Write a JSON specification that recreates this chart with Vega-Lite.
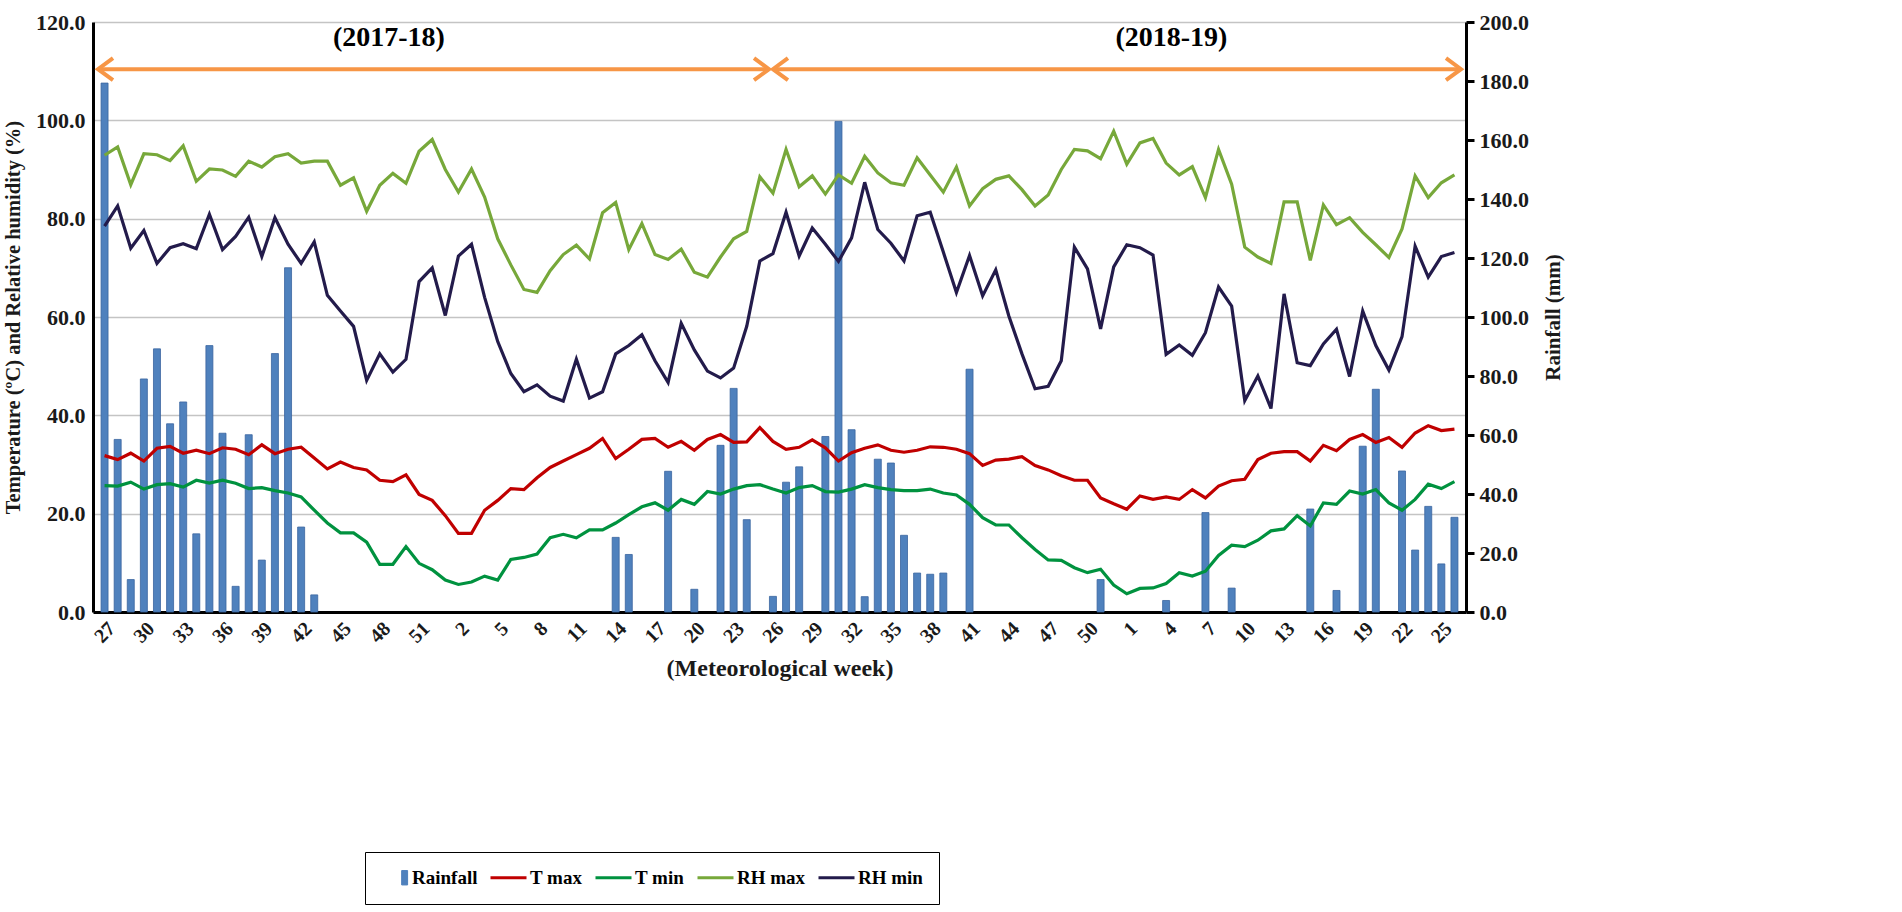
{
  "$schema": "https://vega.github.io/schema/vega-lite/v6.json",
  "width": 1373,
  "height": 590,
  "autosize": {"type": "none"},
  "padding": {"left": 93, "top": 22, "right": 436, "bottom": 300},
  "background": "white",
  "datasets": {
    "weekly": [
      {"i": 0, "week": 27, "Rainfall": 179.3, "T max": 31.8, "T min": 25.7, "RH max": 92.9, "RH min": 78.5},
      {"i": 1, "week": 28, "Rainfall": 58.5, "T max": 31.0, "T min": 25.6, "RH max": 94.6, "RH min": 82.6},
      {"i": 2, "week": 29, "Rainfall": 11.0, "T max": 32.3, "T min": 26.4, "RH max": 86.9, "RH min": 74.0},
      {"i": 3, "week": 30, "Rainfall": 79.0, "T max": 30.7, "T min": 25.0, "RH max": 93.2, "RH min": 77.6},
      {"i": 4, "week": 31, "Rainfall": 89.2, "T max": 33.3, "T min": 25.9, "RH max": 93.0, "RH min": 70.9},
      {"i": 5, "week": 32, "Rainfall": 63.8, "T max": 33.7, "T min": 26.1, "RH max": 91.8, "RH min": 74.1},
      {"i": 6, "week": 33, "Rainfall": 71.2, "T max": 32.3, "T min": 25.4, "RH max": 94.8, "RH min": 74.9},
      {"i": 7, "week": 34, "Rainfall": 26.5, "T max": 32.9, "T min": 26.8, "RH max": 87.6, "RH min": 73.9},
      {"i": 8, "week": 35, "Rainfall": 90.3, "T max": 32.2, "T min": 26.2, "RH max": 90.1, "RH min": 80.9},
      {"i": 9, "week": 36, "Rainfall": 60.6, "T max": 33.4, "T min": 26.8, "RH max": 89.9, "RH min": 73.7},
      {"i": 10, "week": 37, "Rainfall": 8.7, "T max": 33.1, "T min": 26.2, "RH max": 88.6, "RH min": 76.4},
      {"i": 11, "week": 38, "Rainfall": 60.1, "T max": 32.0, "T min": 25.1, "RH max": 91.7, "RH min": 80.3},
      {"i": 12, "week": 39, "Rainfall": 17.6, "T max": 34.0, "T min": 25.3, "RH max": 90.5, "RH min": 72.3},
      {"i": 13, "week": 40, "Rainfall": 87.6, "T max": 32.2, "T min": 24.7, "RH max": 92.6, "RH min": 80.2},
      {"i": 14, "week": 41, "Rainfall": 116.7, "T max": 33.1, "T min": 24.2, "RH max": 93.2, "RH min": 74.8},
      {"i": 15, "week": 42, "Rainfall": 28.8, "T max": 33.5, "T min": 23.4, "RH max": 91.3, "RH min": 70.9},
      {"i": 16, "week": 43, "Rainfall": 5.8, "T max": 31.3, "T min": 20.7, "RH max": 91.7, "RH min": 75.3},
      {"i": 17, "week": 44, "Rainfall": 0, "T max": 29.1, "T min": 18.1, "RH max": 91.7, "RH min": 64.4},
      {"i": 18, "week": 45, "Rainfall": 0, "T max": 30.5, "T min": 16.1, "RH max": 86.8, "RH min": 61.2},
      {"i": 19, "week": 46, "Rainfall": 0, "T max": 29.4, "T min": 16.1, "RH max": 88.3, "RH min": 58.1},
      {"i": 20, "week": 47, "Rainfall": 0, "T max": 28.9, "T min": 14.2, "RH max": 81.5, "RH min": 47.1},
      {"i": 21, "week": 48, "Rainfall": 0, "T max": 26.8, "T min": 9.7, "RH max": 86.8, "RH min": 52.5},
      {"i": 22, "week": 49, "Rainfall": 0, "T max": 26.5, "T min": 9.7, "RH max": 89.2, "RH min": 48.8},
      {"i": 23, "week": 50, "Rainfall": 0, "T max": 27.9, "T min": 13.3, "RH max": 87.2, "RH min": 51.4},
      {"i": 24, "week": 51, "Rainfall": 0, "T max": 23.9, "T min": 9.9, "RH max": 93.7, "RH min": 67.2},
      {"i": 25, "week": 52, "Rainfall": 0, "T max": 22.7, "T min": 8.6, "RH max": 96.1, "RH min": 70.0},
      {"i": 26, "week": 1, "Rainfall": 0, "T max": 19.6, "T min": 6.5, "RH max": 90.0, "RH min": 60.3},
      {"i": 27, "week": 2, "Rainfall": 0, "T max": 16.0, "T min": 5.6, "RH max": 85.4, "RH min": 72.4},
      {"i": 28, "week": 3, "Rainfall": 0, "T max": 16.0, "T min": 6.1, "RH max": 90.1, "RH min": 74.8},
      {"i": 29, "week": 4, "Rainfall": 0, "T max": 20.7, "T min": 7.3, "RH max": 84.4, "RH min": 64.0},
      {"i": 30, "week": 5, "Rainfall": 0, "T max": 22.7, "T min": 6.5, "RH max": 75.9, "RH min": 55.0},
      {"i": 31, "week": 6, "Rainfall": 0, "T max": 25.1, "T min": 10.7, "RH max": 70.6, "RH min": 48.5},
      {"i": 32, "week": 7, "Rainfall": 0, "T max": 24.9, "T min": 11.1, "RH max": 65.6, "RH min": 44.8},
      {"i": 33, "week": 8, "Rainfall": 0, "T max": 27.3, "T min": 11.8, "RH max": 65.0, "RH min": 46.2},
      {"i": 34, "week": 9, "Rainfall": 0, "T max": 29.4, "T min": 15.1, "RH max": 69.4, "RH min": 43.9},
      {"i": 35, "week": 10, "Rainfall": 0, "T max": 30.7, "T min": 15.8, "RH max": 72.7, "RH min": 42.9},
      {"i": 36, "week": 11, "Rainfall": 0, "T max": 32.0, "T min": 15.1, "RH max": 74.6, "RH min": 51.4},
      {"i": 37, "week": 12, "Rainfall": 0, "T max": 33.3, "T min": 16.7, "RH max": 71.8, "RH min": 43.5},
      {"i": 38, "week": 13, "Rainfall": 0, "T max": 35.3, "T min": 16.7, "RH max": 81.2, "RH min": 44.8},
      {"i": 39, "week": 14, "Rainfall": 25.3, "T max": 31.2, "T min": 18.1, "RH max": 83.3, "RH min": 52.5},
      {"i": 40, "week": 15, "Rainfall": 19.5, "T max": 33.1, "T min": 19.8, "RH max": 73.7, "RH min": 54.2},
      {"i": 41, "week": 16, "Rainfall": 0, "T max": 35.1, "T min": 21.4, "RH max": 79.0, "RH min": 56.4},
      {"i": 42, "week": 17, "Rainfall": 0, "T max": 35.3, "T min": 22.2, "RH max": 72.7, "RH min": 51.1},
      {"i": 43, "week": 18, "Rainfall": 47.7, "T max": 33.5, "T min": 20.7, "RH max": 71.7, "RH min": 46.7},
      {"i": 44, "week": 19, "Rainfall": 0, "T max": 34.7, "T min": 22.9, "RH max": 73.8, "RH min": 58.7},
      {"i": 45, "week": 20, "Rainfall": 7.7, "T max": 32.9, "T min": 21.9, "RH max": 69.1, "RH min": 53.3},
      {"i": 46, "week": 21, "Rainfall": 0, "T max": 35.1, "T min": 24.5, "RH max": 68.1, "RH min": 49.0},
      {"i": 47, "week": 22, "Rainfall": 56.5, "T max": 36.1, "T min": 24.0, "RH max": 72.2, "RH min": 47.6},
      {"i": 48, "week": 23, "Rainfall": 75.8, "T max": 34.5, "T min": 25.0, "RH max": 75.9, "RH min": 49.6},
      {"i": 49, "week": 24, "Rainfall": 31.3, "T max": 34.6, "T min": 25.7, "RH max": 77.4, "RH min": 58.1},
      {"i": 50, "week": 25, "Rainfall": 0, "T max": 37.5, "T min": 25.9, "RH max": 88.5, "RH min": 71.4},
      {"i": 51, "week": 26, "Rainfall": 5.3, "T max": 34.7, "T min": 25.0, "RH max": 85.2, "RH min": 72.9},
      {"i": 52, "week": 27, "Rainfall": 44.0, "T max": 33.1, "T min": 24.2, "RH max": 94.1, "RH min": 81.3},
      {"i": 53, "week": 28, "Rainfall": 49.2, "T max": 33.5, "T min": 25.3, "RH max": 86.5, "RH min": 72.4},
      {"i": 54, "week": 29, "Rainfall": 0, "T max": 35.0, "T min": 25.7, "RH max": 88.7, "RH min": 78.1},
      {"i": 55, "week": 30, "Rainfall": 59.5, "T max": 33.4, "T min": 24.5, "RH max": 85.0, "RH min": 74.8},
      {"i": 56, "week": 31, "Rainfall": 166.3, "T max": 30.7, "T min": 24.4, "RH max": 88.9, "RH min": 71.3},
      {"i": 57, "week": 32, "Rainfall": 61.8, "T max": 32.4, "T min": 25.0, "RH max": 87.2, "RH min": 76.1},
      {"i": 58, "week": 33, "Rainfall": 5.2, "T max": 33.3, "T min": 25.9, "RH max": 92.7, "RH min": 87.4},
      {"i": 59, "week": 34, "Rainfall": 51.8, "T max": 34.0, "T min": 25.3, "RH max": 89.3, "RH min": 77.8},
      {"i": 60, "week": 35, "Rainfall": 50.5, "T max": 32.9, "T min": 24.9, "RH max": 87.3, "RH min": 75.0},
      {"i": 61, "week": 36, "Rainfall": 26.0, "T max": 32.5, "T min": 24.7, "RH max": 86.8, "RH min": 71.4},
      {"i": 62, "week": 37, "Rainfall": 13.2, "T max": 32.9, "T min": 24.7, "RH max": 92.4, "RH min": 80.6},
      {"i": 63, "week": 38, "Rainfall": 12.8, "T max": 33.6, "T min": 25.0, "RH max": 88.9, "RH min": 81.3},
      {"i": 64, "week": 39, "Rainfall": 13.2, "T max": 33.5, "T min": 24.2, "RH max": 85.4, "RH min": 73.2},
      {"i": 65, "week": 40, "Rainfall": 0, "T max": 33.1, "T min": 23.8, "RH max": 90.5, "RH min": 65.0},
      {"i": 66, "week": 41, "Rainfall": 82.3, "T max": 32.2, "T min": 21.9, "RH max": 82.6, "RH min": 72.5},
      {"i": 67, "week": 42, "Rainfall": 0, "T max": 29.8, "T min": 19.2, "RH max": 86.1, "RH min": 64.3},
      {"i": 68, "week": 43, "Rainfall": 0, "T max": 30.9, "T min": 17.7, "RH max": 88.0, "RH min": 69.6},
      {"i": 69, "week": 44, "Rainfall": 0, "T max": 31.1, "T min": 17.7, "RH max": 88.7, "RH min": 60.2},
      {"i": 70, "week": 45, "Rainfall": 0, "T max": 31.6, "T min": 15.1, "RH max": 85.9, "RH min": 52.5},
      {"i": 71, "week": 46, "Rainfall": 0, "T max": 29.8, "T min": 12.7, "RH max": 82.6, "RH min": 45.4},
      {"i": 72, "week": 47, "Rainfall": 0, "T max": 28.9, "T min": 10.6, "RH max": 84.8, "RH min": 45.9},
      {"i": 73, "week": 48, "Rainfall": 0, "T max": 27.7, "T min": 10.5, "RH max": 90.0, "RH min": 51.1},
      {"i": 74, "week": 49, "Rainfall": 0, "T max": 26.8, "T min": 9.0, "RH max": 94.1, "RH min": 74.2},
      {"i": 75, "week": 50, "Rainfall": 0, "T max": 26.8, "T min": 8.0, "RH max": 93.8, "RH min": 69.8},
      {"i": 76, "week": 51, "Rainfall": 11.0, "T max": 23.2, "T min": 8.7, "RH max": 92.2, "RH min": 57.6},
      {"i": 77, "week": 52, "Rainfall": 0, "T max": 22.0, "T min": 5.5, "RH max": 97.8, "RH min": 70.2},
      {"i": 78, "week": 1, "Rainfall": 0, "T max": 20.9, "T min": 3.7, "RH max": 91.1, "RH min": 74.7},
      {"i": 79, "week": 2, "Rainfall": 0, "T max": 23.6, "T min": 4.8, "RH max": 95.4, "RH min": 74.1},
      {"i": 80, "week": 3, "Rainfall": 0, "T max": 22.9, "T min": 4.9, "RH max": 96.3, "RH min": 72.6},
      {"i": 81, "week": 4, "Rainfall": 3.9, "T max": 23.4, "T min": 5.8, "RH max": 91.3, "RH min": 52.4},
      {"i": 82, "week": 5, "Rainfall": 0, "T max": 22.9, "T min": 8.0, "RH max": 88.9, "RH min": 54.3},
      {"i": 83, "week": 6, "Rainfall": 0, "T max": 24.9, "T min": 7.3, "RH max": 90.6, "RH min": 52.2},
      {"i": 84, "week": 7, "Rainfall": 33.7, "T max": 23.2, "T min": 8.3, "RH max": 84.3, "RH min": 56.8},
      {"i": 85, "week": 8, "Rainfall": 0, "T max": 25.6, "T min": 11.5, "RH max": 94.1, "RH min": 66.1},
      {"i": 86, "week": 9, "Rainfall": 8.1, "T max": 26.7, "T min": 13.6, "RH max": 87.0, "RH min": 62.2},
      {"i": 87, "week": 10, "Rainfall": 0, "T max": 27.0, "T min": 13.3, "RH max": 74.2, "RH min": 43.0},
      {"i": 88, "week": 11, "Rainfall": 0, "T max": 31.0, "T min": 14.6, "RH max": 72.2, "RH min": 48.0},
      {"i": 89, "week": 12, "Rainfall": 0, "T max": 32.3, "T min": 16.5, "RH max": 70.9, "RH min": 41.4},
      {"i": 90, "week": 13, "Rainfall": 0, "T max": 32.6, "T min": 16.9, "RH max": 83.4, "RH min": 64.7},
      {"i": 91, "week": 14, "Rainfall": 0, "T max": 32.6, "T min": 19.6, "RH max": 83.4, "RH min": 50.7},
      {"i": 92, "week": 15, "Rainfall": 34.9, "T max": 30.7, "T min": 17.5, "RH max": 71.5, "RH min": 50.1},
      {"i": 93, "week": 16, "Rainfall": 0, "T max": 33.9, "T min": 22.2, "RH max": 82.8, "RH min": 54.5},
      {"i": 94, "week": 17, "Rainfall": 7.3, "T max": 32.8, "T min": 21.9, "RH max": 78.8, "RH min": 57.5},
      {"i": 95, "week": 18, "Rainfall": 0, "T max": 35.1, "T min": 24.6, "RH max": 80.2, "RH min": 47.9},
      {"i": 96, "week": 19, "Rainfall": 56.2, "T max": 36.1, "T min": 24.0, "RH max": 77.2, "RH min": 61.2},
      {"i": 97, "week": 20, "Rainfall": 75.5, "T max": 34.5, "T min": 24.9, "RH max": 74.7, "RH min": 54.2},
      {"i": 98, "week": 21, "Rainfall": 0, "T max": 35.5, "T min": 22.2, "RH max": 72.1, "RH min": 49.2},
      {"i": 99, "week": 22, "Rainfall": 47.8, "T max": 33.5, "T min": 20.7, "RH max": 77.9, "RH min": 56.0},
      {"i": 100, "week": 23, "Rainfall": 21.0, "T max": 36.4, "T min": 22.9, "RH max": 88.7, "RH min": 74.4},
      {"i": 101, "week": 24, "Rainfall": 35.8, "T max": 37.9, "T min": 26.0, "RH max": 84.3, "RH min": 68.1},
      {"i": 102, "week": 25, "Rainfall": 16.3, "T max": 36.9, "T min": 25.1, "RH max": 87.3, "RH min": 72.3},
      {"i": 103, "week": 26, "Rainfall": 32.1, "T max": 37.2, "T min": 26.5, "RH max": 88.9, "RH min": 73.1}
    ],
    "seasons": [
      {"label": "(2017-18)", "start": -0.5, "end": 50.7, "labelPos": 21.7, "arrowY": 110.4, "labelY": 116.7},
      {"label": "(2018-19)", "start": 51.0, "end": 103.5, "labelPos": 81.4, "arrowY": 110.4, "labelY": 116.7}
    ]
  },
  "encoding": {
    "x": {
      "field": "i",
      "type": "quantitative",
      "scale": {"domain": [-0.5, 103.5], "nice": false, "zero": false},
      "axis": {
        "title": "(Meteorological week)",
        "values": [0, 3, 6, 9, 12, 15, 18, 21, 24, 27, 30, 33, 36, 39, 42, 45, 48, 51, 54, 57, 60, 63, 66, 69, 72, 75, 78, 81, 84, 87, 90, 93, 96, 99, 102],
        "labelExpr": "((datum.value + 26) % 52) + 1",
        "labelAngle": -45,
        "labelFontSize": 20,
        "labelPadding": 6,
        "ticks": false,
        "grid": false,
        "domainColor": "black",
        "domainWidth": 3,
        "titleFontSize": 24,
        "titlePadding": 10
      }
    }
  },
  "layer": [
    {
      "data": {"name": "weekly"},
      "transform": [
        {"filter": "datum.Rainfall > 0"},
        {"fold": ["Rainfall"], "as": ["series", "value"]}
      ],
      "mark": {"type": "bar", "size": 7, "stroke": "#3A65A0", "strokeWidth": 0.8},
      "encoding": {
        "y": {
          "field": "value",
          "type": "quantitative",
          "scale": {"domain": [0, 200], "nice": false},
          "axis": {
            "orient": "right",
            "title": "Rainfall (mm)",
            "titleAngle": 270,
            "titleBaseline": "top",
            "values": [0, 20, 40, 60, 80, 100, 120, 140, 160, 180, 200],
            "format": ".1f",
            "grid": false,
            "domainColor": "black",
            "domainWidth": 3,
            "tickColor": "black",
            "tickWidth": 3,
            "tickSize": 8,
            "labelPadding": 5,
            "labelFontSize": 22,
            "titleFontSize": 21,
            "titlePadding": 14
          }
        },
        "color": {
          "field": "series",
          "type": "nominal",
          "scale": {
            "domain": ["Rainfall", "T max", "T min", "RH max", "RH min"],
            "range": ["#4F81BD", "#C00000", "#00923F", "#77A83A", "#231B4B"]
          },
          "legend": {
            "title": null,
            "orient": "none",
            "legendX": 272,
            "legendY": 830,
            "direction": "horizontal",
            "columns": 5,
            "strokeColor": "black",
            "padding": 16,
            "symbolType": "stroke",
            "symbolSize": 1296,
            "symbolStrokeWidth": 3,
            "labelFontSize": 19,
            "labelOffset": 12,
            "columnPadding": 6,
            "encode": {
              "symbols": {
                "update": {
                  "shape": {"signal": "datum.value === 'Rainfall' ? 'M0.62,-0.4H0.95V0.4H0.62Z' : 'stroke'"},
                  "fill": {"signal": "datum.value === 'Rainfall' ? '#4F81BD' : 'transparent'"},
                  "stroke": {"signal": "datum.value === 'Rainfall' ? '#3A65A0' : scale('color', datum.value)"},
                  "strokeWidth": {"signal": "datum.value === 'Rainfall' ? 1 : 3"}
                }
              }
            }
          }
        }
      }
    },
    {
      "data": {"name": "weekly"},
      "transform": [
        {"fold": ["T max", "T min", "RH max", "RH min"], "as": ["series", "value"]}
      ],
      "mark": {"type": "line", "strokeWidth": 3.2},
      "encoding": {
        "y": {
          "field": "value",
          "type": "quantitative",
          "scale": {"domain": [0, 120], "nice": false},
          "axis": {
            "orient": "left",
            "title": "Temperature (ºC) and Relative humidity (%)",
            "values": [0, 20, 40, 60, 80, 100, 120],
            "format": ".1f",
            "grid": true,
            "gridColor": "#C4C4C4",
            "gridWidth": 1.5,
            "ticks": false,
            "domainColor": "black",
            "domainWidth": 3,
            "labelPadding": 8,
            "labelFontSize": 22,
            "titleFontSize": 20.5,
            "titlePadding": 12
          }
        },
        "color": {
          "field": "series",
          "type": "nominal",
          "scale": {
            "domain": ["Rainfall", "T max", "T min", "RH max", "RH min"],
            "range": ["#4F81BD", "#C00000", "#00923F", "#77A83A", "#231B4B"]
          },
          "legend": {
            "title": null,
            "orient": "none",
            "legendX": 272,
            "legendY": 830,
            "direction": "horizontal",
            "columns": 5,
            "strokeColor": "black",
            "padding": 16,
            "symbolType": "stroke",
            "symbolSize": 1296,
            "symbolStrokeWidth": 3,
            "labelFontSize": 19,
            "labelOffset": 12,
            "columnPadding": 6,
            "encode": {
              "symbols": {
                "update": {
                  "shape": {"signal": "datum.value === 'Rainfall' ? 'M0.62,-0.4H0.95V0.4H0.62Z' : 'stroke'"},
                  "fill": {"signal": "datum.value === 'Rainfall' ? '#4F81BD' : 'transparent'"},
                  "stroke": {"signal": "datum.value === 'Rainfall' ? '#3A65A0' : scale('color', datum.value)"},
                  "strokeWidth": {"signal": "datum.value === 'Rainfall' ? 1 : 3"}
                }
              }
            }
          }
        },
        "order": {"field": "i"}
      }
    },
    {
      "data": {"name": "seasons"},
      "mark": {"type": "rule", "color": "#F79646", "strokeWidth": 4},
      "encoding": {
        "x": {"field": "start", "type": "quantitative"},
        "x2": {"field": "end"},
        "y": {"field": "arrowY", "type": "quantitative", "scale": {"domain": [0, 120], "nice": false}, "axis": null}
      }
    },
    {
      "data": {"name": "seasons"},
      "mark": {"type": "point", "shape": "M1.5,-1.1L0,0L1.5,1.1", "filled": false, "stroke": "#F79646", "strokeWidth": 4, "size": 400, "opacity": 1, "clip": false},
      "encoding": {
        "x": {"field": "start", "type": "quantitative"},
        "y": {"field": "arrowY", "type": "quantitative", "scale": {"domain": [0, 120], "nice": false}, "axis": null}
      }
    },
    {
      "data": {"name": "seasons"},
      "mark": {"type": "point", "shape": "M-1.5,-1.1L0,0L-1.5,1.1", "filled": false, "stroke": "#F79646", "strokeWidth": 4, "size": 400, "opacity": 1, "clip": false},
      "encoding": {
        "x": {"field": "end", "type": "quantitative"},
        "y": {"field": "arrowY", "type": "quantitative", "scale": {"domain": [0, 120], "nice": false}, "axis": null}
      }
    },
    {
      "data": {"name": "seasons"},
      "mark": {"type": "text", "fontSize": 28, "fontWeight": "bold", "font": "Liberation Serif", "color": "black", "baseline": "middle"},
      "encoding": {
        "x": {"field": "labelPos", "type": "quantitative"},
        "y": {"field": "labelY", "type": "quantitative", "scale": {"domain": [0, 120], "nice": false}, "axis": null},
        "text": {"field": "label"}
      }
    }
  ],
  "resolve": {"scale": {"y": "independent"}},
  "config": {
    "font": "Liberation Serif",
    "view": {"stroke": null},
    "axis": {
      "labelFont": "Liberation Serif",
      "labelFontWeight": "bold",
      "labelColor": "#1a1a1a",
      "titleFont": "Liberation Serif",
      "titleFontWeight": "bold",
      "titleColor": "#1a1a1a"
    },
    "legend": {
      "labelFont": "Liberation Serif",
      "labelFontWeight": "bold",
      "labelColor": "black"
    }
  }
}
